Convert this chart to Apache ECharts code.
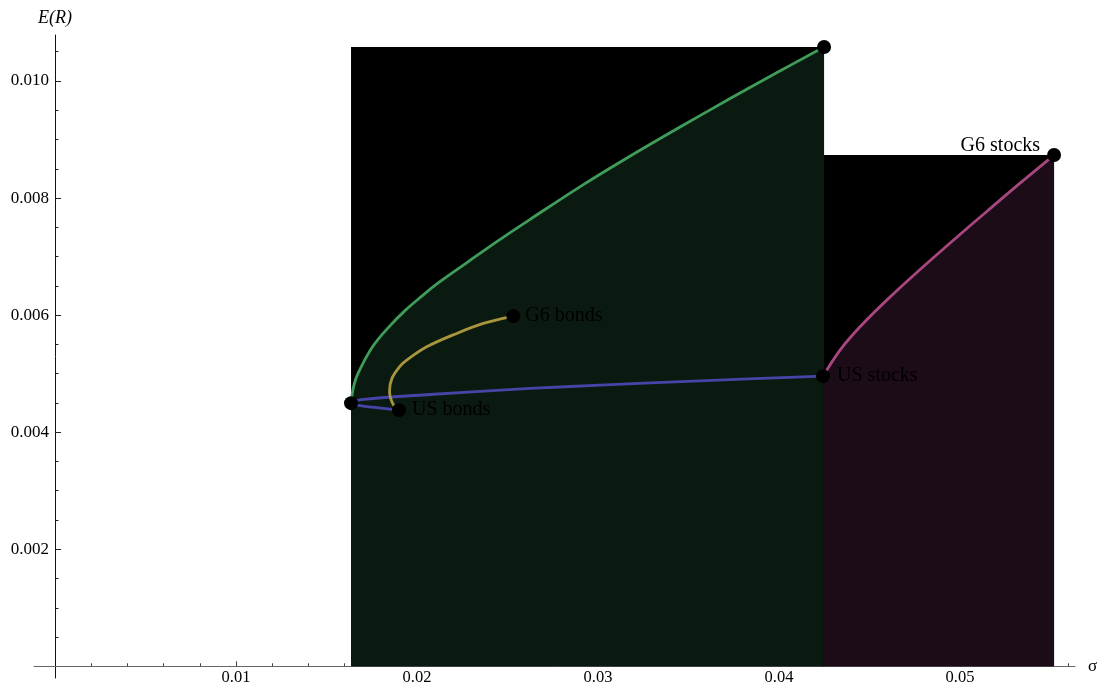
<!DOCTYPE html>
<html>
<head>
<meta charset="utf-8">
<title>efficient frontier</title>
<script src="https://cdn.jsdelivr.net/npm/echarts@6/dist/echarts.min.js"></script>
<style>
html, body { margin: 0; padding: 0; background: #fff; }
#main { width: 1099px; height: 692px; }
</style>
</head>
<body>
<div id="main"></div>
<script>
// 坐标轴刻度
var xMajor = [ 0.01, 0.02, 0.03, 0.04, 0.05 ];
var xMinor = [ 0.002, 0.004, 0.006, 0.008, 0.012, 0.014, 0.016, 0.018, 0.022, 0.024, 0.026, 0.028,
		0.032, 0.034, 0.036, 0.038, 0.042, 0.044, 0.046, 0.048, 0.052, 0.054, 0.056 ];
var yMajor = [ 0.002, 0.004, 0.006, 0.008, 0.010 ];
var yMinor = [ 0.0005, 0.001, 0.0015, 0.0025, 0.003, 0.0035, 0.0045, 0.005, 0.0055, 0.0065, 0.007,
		0.0075, 0.0085, 0.009, 0.0095, 0.0105 ];

// 资产点 [sigma, E(R)]
var assetNames = [ 'US bonds', 'G6 bonds', 'US stocks', 'G6 stocks' ];
var assetPoints = [ [ 0.019006, 0.004376 ], [ 0.025320, 0.005983 ], [ 0.042431, 0.004957 ], [ 0.055193, 0.008735 ] ];
var extraPoints = [ [ 0.016354, 0.004496 ], [ 0.042486, 0.010581 ] ];

// 有效前沿曲线
var greenCurve = [ [ 0.016354, 0.004496 ], [ 0.016492, 0.004774 ], [ 0.016740, 0.005003 ], [ 0.017541, 0.005458 ],
		[ 0.018453, 0.005800 ], [ 0.019365, 0.006085 ], [ 0.020249, 0.006320 ], [ 0.021133, 0.006542 ],
		[ 0.022818, 0.006911 ], [ 0.024530, 0.007282 ], [ 0.026464, 0.007680 ], [ 0.029061, 0.008205 ],
		[ 0.031713, 0.008706 ], [ 0.034530, 0.009214 ], [ 0.037320, 0.009704 ], [ 0.039917, 0.010149 ],
		[ 0.042486, 0.010581 ] ];
var purpleCurve = [ [ 0.042431, 0.004957 ], [ 0.043370, 0.005402 ], [ 0.044475, 0.005800 ], [ 0.045950, 0.006256 ],
		[ 0.047790, 0.006779 ], [ 0.049630, 0.007280 ], [ 0.051475, 0.007771 ], [ 0.053315, 0.008255 ],
		[ 0.055193, 0.008735 ] ];
var blueCurve = [ [ 0.019006, 0.004376 ], [ 0.017790, 0.004419 ], [ 0.016850, 0.004453 ], [ 0.016354, 0.004496 ],
		[ 0.017033, 0.004559 ], [ 0.020718, 0.004644 ], [ 0.026243, 0.004747 ], [ 0.030110, 0.004803 ],
		[ 0.035635, 0.004877 ], [ 0.042431, 0.004957 ] ];
var yellowCurve = [ [ 0.019006, 0.004376 ], [ 0.018674, 0.004479 ], [ 0.018481, 0.004701 ], [ 0.018619, 0.004923 ],
		[ 0.019061, 0.005128 ], [ 0.019431, 0.005231 ], [ 0.020536, 0.005458 ], [ 0.022193, 0.005687 ],
		[ 0.023663, 0.005858 ], [ 0.025320, 0.005983 ] ];

var serif = 'Liberation Serif';

// 曲线外接矩形 (黑色填充)
function bboxTop(curve) {
	var xs = curve.map(function(p) { return p[0]; });
	var ys = curve.map(function(p) { return p[1]; });
	var top = Math.max.apply(null, ys);
	return [ [ Math.min.apply(null, xs), top ], [ Math.max.apply(null, xs), top ] ];
}

function curveSeries(data, lineColor, fillColor) {
	var s = {
		type : 'line',
		data : data,
		smooth : 0.35,
		symbol : 'none',
		lineStyle : { color : lineColor, width : 2.8 },
		animation : false,
		silent : true
	};
	if (fillColor) {
		s.areaStyle = { color : fillColor, opacity : 1 };
	}
	return s;
}

function rectSeries(curve) {
	return {
		type : 'line',
		data : bboxTop(curve),
		symbol : 'none',
		lineStyle : { width : 0 },
		areaStyle : { color : '#000', opacity : 1 },
		animation : false,
		silent : true
	};
}

var labelPos = [ [ 'right', 6, [ 0, 0 ] ], [ 'right', 5, [ 0, 0 ] ], [ 'right', 7, [ 0, 0 ] ], [ 'left', 7, [ 0, -9 ] ] ];

var chart = echarts.init(document.getElementById('main'));
var option = {
	animation : false,
	grid : { left : 34, right : 24, top : 35, bottom : 14, outerBoundsMode : 'none', containLabel : false },
	xAxis : [ {
		type : 'value',
		min : -0.00116,
		max : 0.05635,
		position : 'bottom',
		name : 'σ',
		nameLocation : 'end',
		nameGap : 13,
		nameTextStyle : { fontFamily : serif, fontSize : 17, color : '#000' },
		axisLine : { onZero : true, lineStyle : { color : '#666', width : 1 } },
		axisTick : { inside : true, length : 5, customValues : xMajor, lineStyle : { color : '#444' } },
		axisLabel : {
			customValues : xMajor,
			margin : -9,
			fontFamily : serif,
			fontSize : 16.5,
			color : '#000',
			formatter : function(v) { return v.toFixed(2); }
		},
		splitLine : { show : false }
	}, {
		type : 'value',
		min : -0.00116,
		max : 0.05635,
		position : 'top',
		axisLine : { show : false, onZero : true },
		axisTick : { inside : false, length : 3, customValues : xMinor, lineStyle : { color : '#444' } },
		axisLabel : { show : false },
		splitLine : { show : false }
	} ],
	yAxis : [ {
		type : 'value',
		min : -0.0002,
		max : 0.010786,
		position : 'left',
		name : 'E(R)',
		nameLocation : 'end',
		nameGap : 8,
		nameTextStyle : { fontFamily : serif, fontSize : 18, fontStyle : 'italic', color : '#000' },
		axisLine : { onZero : true, lineStyle : { color : '#111', width : 1 } },
		axisTick : { inside : true, length : 6, customValues : yMajor, lineStyle : { color : '#222' } },
		axisLabel : {
			customValues : yMajor,
			margin : -15,
			fontFamily : serif,
			fontSize : 17,
			color : '#000',
			formatter : function(v) { return v.toFixed(3); }
		},
		splitLine : { show : false }
	}, {
		type : 'value',
		min : -0.0002,
		max : 0.010786,
		position : 'right',
		axisLine : { show : false, onZero : true },
		axisTick : { inside : false, length : 3.5, customValues : yMinor, lineStyle : { color : '#222' } },
		axisLabel : { show : false },
		splitLine : { show : false }
	} ],
	series : [
		rectSeries(greenCurve),
		rectSeries(purpleCurve),
		curveSeries(greenCurve, '#3f9c5a', '#0b1a10'),
		curveSeries(purpleCurve, '#a8467f', '#1c0c17'),
		curveSeries(blueCurve, '#4545a8'),
		curveSeries(yellowCurve, '#a8963f'),
		{
			type : 'scatter',
			z : 5,
			data : extraPoints,
			symbolSize : 14,
			itemStyle : { color : '#000', opacity : 1 },
			silent : true
		},
		{
			type : 'scatter',
			z : 5,
			data : assetPoints.map(function(p, i) {
				return {
					value : p,
					name : assetNames[i],
					label : {
						position : labelPos[i][0],
						distance : labelPos[i][1],
						offset : labelPos[i][2]
					}
				};
			}),
			symbolSize : 14,
			itemStyle : { color : '#000', opacity : 1 },
			label : {
				show : true,
				formatter : '{b}',
				fontFamily : serif,
				fontSize : 20,
				color : '#000'
			},
			silent : true
		}
	]
};
chart.setOption(option);
</script>
</body>
</html>
